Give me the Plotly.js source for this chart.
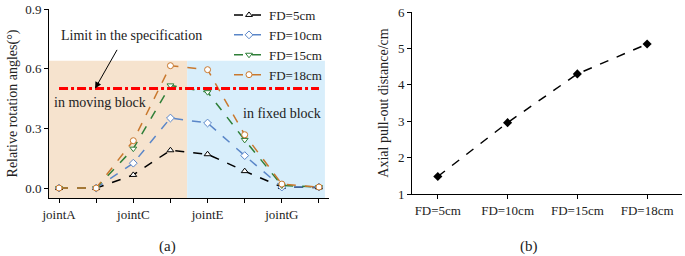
<!DOCTYPE html>
<html>
<head>
<meta charset="utf-8">
<script src="https://cdn.plot.ly/plotly-3.0.1.min.js"></script>
<style>html,body{margin:0;padding:0;background:#fff;}#chart{width:685px;height:256px;}</style>
</head>
<body>
<div id="chart"></div>
<script>
// ---- data (a) ----
const joints = [0, 1, 2, 3, 4, 5, 6, 7];
const jointLabels = ['jointA', '', 'jointC', '', 'jointE', '', 'jointG', ''];
const fd5 = [0, 0, 0.066, 0.19, 0.17, 0.085, 0.005, 0.003];
const fd10 = [0, 0, 0.125, 0.352, 0.327, 0.163, 0.005, 0.005];
const fd15 = [0, 0, 0.198, 0.516, 0.482, 0.242, 0.013, 0.005];
const fd18 = [0, 0, 0.238, 0.615, 0.595, 0.268, 0.02, 0.005];
const seriesNames = ['FD=5cm', 'FD=10cm', 'FD=15cm', 'FD=18cm'];
const limitValue = 0.5;
// ---- data (b) ----
const fdCats = ['FD=5cm', 'FD=10cm', 'FD=15cm', 'FD=18cm'];
const pullOut = [1.48, 2.96, 4.3, 5.12];

const serif = 'Liberation Serif, Times New Roman, serif';
const colors = ['#000000', '#5a86c8', '#2f7f38', '#c9782e'];
const symbols = ['triangle-up', 'diamond', 'triangle-down', 'circle'];
const seriesData = [fd5, fd10, fd15, fd18];

const traces = seriesData.map((d, i) => ({
  x: joints, y: d, name: seriesNames[i], type: 'scatter', mode: 'lines+markers',
  xaxis: 'x', yaxis: 'y',
  line: {color: colors[i], width: 1.5, dash: 'dash'},
  marker: {symbol: symbols[i], size: 6, color: '#ffffff', line: {color: colors[i], width: 1}}
}));
traces.push({
  x: [0, 7], y: [limitValue, limitValue], type: 'scatter', mode: 'lines', showlegend: false,
  xaxis: 'x', yaxis: 'y', line: {color: '#ff0000', width: 3, dash: 'dashdot'}, hoverinfo: 'skip'
});
traces.push({
  x: fdCats, y: pullOut, type: 'scatter', mode: 'lines+markers', showlegend: false,
  xaxis: 'x2', yaxis: 'y2',
  line: {color: '#000', width: 1.5, dash: 'dash'},
  marker: {symbol: 'diamond', size: 7, color: '#000'}
});

const axisCommon = {
  showline: true, linecolor: '#000', linewidth: 1, showgrid: false, zeroline: false,
  ticks: 'outside', ticklen: 4, tickcolor: '#000', tickfont: {family: serif, size: 13, color: '#222'}
};

const ann = (x, y, text, size) => ({xref: 'paper', yref: 'paper', x: x/685, y: (256-y)/256, xanchor: 'center', yanchor: 'middle',
  text: text, showarrow: false, font: {family: serif, size: size, color: '#222'}});

const layout = {
  width: 685, height: 256, margin: {l: 0, r: 0, t: 0, b: 0},
  paper_bgcolor: '#fff', plot_bgcolor: 'rgba(0,0,0,0)',
  font: {family: serif, color: '#222'},
  xaxis: Object.assign({}, axisCommon, {
    domain: [49/685, 329/685], range: [-0.27, 7.27], anchor: 'y',
    tickmode: 'array', tickvals: joints, ticktext: jointLabels
  }),
  yaxis: Object.assign({}, axisCommon, {
    domain: [58/256, 247/256], range: [-0.05, 0.9], anchor: 'x',
    tickmode: 'array', tickvals: [0, 0.3, 0.6, 0.9], ticktext: ['0.0', '0.3', '0.6', '0.9'],
    title: {text: 'Relative rotation angles(°)', font: {family: serif, size: 14, color: '#222'}, standoff: 4}
  }),
  xaxis2: Object.assign({}, axisCommon, {
    domain: [412/685, 682/685], range: [-0.37, 3.5], anchor: 'y2', type: 'category'
  }),
  yaxis2: Object.assign({}, axisCommon, {
    domain: [62/256, 244/256], range: [1, 6], anchor: 'x2', dtick: 1,
    title: {text: 'Axial pull-out distance/cm', font: {family: serif, size: 14, color: '#222'}, standoff: 6}
  }),
  legend: {
    x: 229/685, y: 1.0, xanchor: 'left', yanchor: 'top', bgcolor: 'rgba(0,0,0,0)',
    font: {family: serif, size: 13, color: '#222'}, tracegroupgap: 0
  },
  shapes: [
    {type: 'rect', xref: 'x', yref: 'y', x0: -0.27, x1: 3.45, y0: -0.05, y1: 0.64, fillcolor: '#f6e3ce', line: {width: 0}, layer: 'below'},
    {type: 'rect', xref: 'x', yref: 'y', x0: 3.45, x1: 7.16, y0: -0.05, y1: 0.64, fillcolor: '#d8eefb', line: {width: 0}, layer: 'below'}
  ],
  annotations: [
    ann(131, 35, 'Limit in the specification', 14),
    {xref: 'x', yref: 'y', x: 0.97, y: limitValue, text: ' ', showarrow: true, ax: 25, ay: -44, arrowhead: 2, arrowsize: 1.3, arrowwidth: 1, arrowcolor: '#000'},
    ann(100, 102, 'in moving block', 14),
    ann(282, 113, 'in fixed block', 14),
    ann(167, 246, '(a)', 15),
    ann(529, 246, '(b)', 15)
  ]
};

Plotly.newPlot('chart', traces, layout, {staticPlot: true, displayModeBar: false});
</script>
</body>
</html>
